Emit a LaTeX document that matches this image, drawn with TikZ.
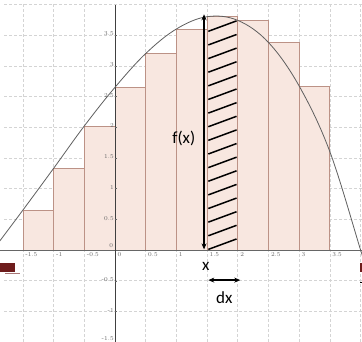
\documentclass[tikz,border=0pt]{standalone}
\usepackage{fontspec}
\newfontfamily\labfont{Carlito}
\usetikzlibrary{arrows.meta}
\definecolor{rectfill}{RGB}{248,231,224}
\definecolor{rectedge}{RGB}{188,146,134}
\definecolor{gridc}{RGB}{212,212,212}
\definecolor{curvec}{RGB}{95,95,95}
\definecolor{darkred}{RGB}{110,28,28}
\tikzset{
  gridline/.style={gridc, dash pattern=on 3pt off 2pt, line width=0.6pt},
  barrect/.style={fill=rectfill, draw=rectedge, line width=0.8pt},
  ticklab/.style={font=\fontsize{6}{7}\selectfont, text=black!60, inner sep=0.5pt},
  biglab/.style={font=\labfont\fontsize{17}{18}\selectfont, inner sep=0pt},
  thickarrow/.style={line width=1.5pt, {Stealth[length=6pt,width=5pt]}-{Stealth[length=6pt,width=5pt]}},
  hatchline/.style={line width=1.5pt, black},
}
\begin{document}
\begin{tikzpicture}[x=61.4pt,y=61.4pt]
\useasboundingbox (-1.873,-1.498) rectangle (4.023,4.072);
\fill[white] (-1.873,-1.498) rectangle (4.023,4.072);
% grid
\foreach \gx in {-1.5,-1,...,4} \draw[gridline] (\gx,-1.498) -- (\gx,4.0);
\foreach \gy in {-1.5,-1,...,4} \draw[gridline] (-1.80,\gy) -- (4.023,\gy);
% rectangles
\foreach \a/\h in {-1.5/0.65,-1/1.33,-0.5/2.02,0/2.65,0.5/3.2,1/3.6,1.5/3.8,2/3.74,2.5/3.38,3/2.67}
  \draw[barrect] (\a,0) rectangle (\a+0.5,\h);
% hatch
\foreach \i in {0,...,16} \draw[hatchline] (1.52,{\i*0.222+0.01}) -- (1.98,{\i*0.222+0.18});
% axes
\draw[gray!80!black, line width=0.7pt] (-1.873,0) -- (4.023,0);
\draw[black!75, line width=0.7pt] (0,-1.498) -- (0,3.99);
% y tick marks and labels
\foreach \v in {-1,-0.5,0.5,1,1.5,2,2.5,3,3.5} {
  \draw[black!60, line width=0.4pt] (0,\v) -- (0.04,\v);
  \node[ticklab, anchor=east] at (-0.01,\v+0.02) {\v};
}
\draw[black!60, line width=0.4pt] (0,-1.5) -- (0.04,-1.5);
\node[ticklab, anchor=south east] at (-0.01,-1.485) {-1.5};
\node[ticklab, anchor=south east] at (-0.02,0.03) {0};
% x tick labels
\foreach \v in {-1.5,-1,-0.5,0,0.5,1,1.5,2,2.5,3,3.5}
  \node[ticklab, anchor=north west] at (\v+0.03,-0.03) {\v};
% curve
\draw[curvec, line width=0.8pt] plot[smooth, tension=0.6] coordinates {(-1.95,0.05) (-1.5,0.65) (-1,1.33) (-0.5,2.02) (0,2.65) (0.5,3.2) (1,3.6) (1.5,3.8) (2,3.74) (2.5,3.38) (3,2.67) (3.5,1.6) (4,0) (4.05,-0.15)};
% f(x) arrow
\coordinate (fbot) at (1.45,0.01);
\coordinate (ftop) at (1.45,3.84);
\draw[thickarrow] (fbot) -- (ftop);
\node[biglab] (fx) at (1.12,1.82) {f(x)};
\node[biglab] (xl) at (1.48,-0.26) {x};
\coordinate (dxl) at (1.52,-0.49);
\coordinate (dxr) at (2.04,-0.49);
\draw[thickarrow] (dxl) -- (dxr);
\node[biglab] (dx) at (1.78,-0.78) {dx};
% slide decorations
\fill[darkred] (-1.873,-0.212) rectangle (-1.629,-0.358);
\draw[darkred!60, line width=0.6pt] (-1.79,-0.385) -- (-1.55,-0.385);
\fill[darkred] (3.995,-0.212) rectangle (4.023,-0.358);
\fill[black] (3.995,-0.52) rectangle (4.023,-0.545);
\end{tikzpicture}
\end{document}
